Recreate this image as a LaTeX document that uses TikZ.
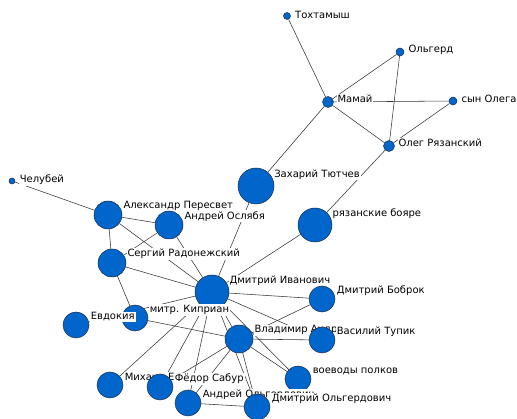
\documentclass[tikz,border=0pt]{standalone}
\usepackage{fontspec}
\setmainfont{DejaVu Sans}
\usepackage{tikz}
\usetikzlibrary{backgrounds,calc}
\definecolor{actorfill}{HTML}{0066CC}
\definecolor{actorline}{HTML}{1C2A4A}
\definecolor{tieline}{HTML}{353535}
\tikzset{
  actor/.style={
    circle, draw=actorline, line width=0.5pt, fill=actorfill, inner sep=0pt
  },
  tag/.style={
    fill=white, inner sep=1pt, anchor=west, font=\fontsize{10}{11}\selectfont
  },
  tie/.style={draw=tieline, line width=0.55pt},
}
% circle of radius #3 at #2, name tag at its upper right
\newcommand{\person}[4]{%
  \node[actor, minimum size=2*#3pt] (#1) at (#2) {};
  \node[tag] (#1-tag) at ($(#1)+({0.7*#3+4.5},{-0.7*#3+1})$) {#4};
}

\begin{document}
\begin{tikzpicture}[x=1pt, y=-1pt]
  \useasboundingbox (0,0) rectangle (517,419);
  \person{tokh}{287,16}{3.5}{Тохтамыш}
  \person{olgerd}{400,52}{4}{Ольгерд}
  \person{mamai}{328,102}{5.5}{Мамай}
  \person{synoleg}{453,101}{4}{сын Олега}
  \person{oleg}{389,146}{5.5}{Олег Рязанский}
  \person{tiutchev}{256,186}{18}{Захарий Тютчев}
  \person{boyare}{315,225}{17}{рязанские бояре}
  \person{chelubey}{12,181}{3}{Челубей}
  \person{peresvet}{108,215}{14}{Александр Пересвет}
  \person{oslyabya}{169,225}{14}{Андрей Ослябя}
  \person{sergiy}{112,263}{14}{Сергий Радонежский}
  \person{dmitry}{212,292}{17}{Дмитрий Иванович}
  \person{bobrok}{322,299}{13}{Дмитрий Боброк}
  \person{kiprian}{135,318}{13}{митр. Киприан}
  \person{evdokia}{76,325}{13}{Евдокия}
  \person{vladimir}{239,339}{14}{Владимир Андреевич}
  \person{tupik}{322,340}{13}{Василий Тупик}
  \person{voevody}{298,379}{13}{воеводы полков}
  \person{mikhail}{110,385}{13}{Михаил Е}
  \person{sabur}{160,387}{13}{Фёдор Сабур}
  \person{andreyolg}{188,403}{13}{Андрей Ольгердович}
  \person{dmolg}{257,407}{13}{Дмитрий Ольгердович}

  \begin{scope}[on background layer]
    % Orda and Ryazan side
    \draw[tie] (tokh) -- (mamai);
    \draw[tie] (olgerd) -- (mamai);
    \draw[tie] (olgerd) -- (oleg);
    \draw[tie] (mamai) -- (synoleg);
    \draw[tie] (mamai) -- (oleg);
    \draw[tie] (synoleg) -- (oleg);
    \draw[tie] (mamai) -- (tiutchev);
    \draw[tie] (oleg) -- (boyare);
    % Moscow side
    \draw[tie] (chelubey) -- (peresvet);
    \draw[tie] (peresvet) -- (oslyabya);
    \draw[tie] (peresvet) -- (sergiy);
    \draw[tie] (peresvet) -- (dmitry);
    \draw[tie] (oslyabya) -- (sergiy);
    \draw[tie] (oslyabya) -- (dmitry);
    \draw[tie] (sergiy) -- (dmitry);
    \draw[tie] (sergiy) -- (kiprian);
    \draw[tie] (tiutchev) -- (dmitry);
    \draw[tie] (boyare) -- (dmitry);
    \draw[tie] (evdokia) -- (dmitry);
    \draw[tie] (kiprian) -- (vladimir);
    \draw[tie] (dmitry) -- (bobrok);
    \draw[tie] (dmitry) -- (vladimir);
    \draw[tie] (dmitry) -- (tupik);
    \draw[tie] (dmitry) -- (mikhail);
    \draw[tie] (dmitry) -- (sabur);
    \draw[tie] (dmitry) -- (andreyolg);
    \draw[tie] (dmitry) -- (dmolg);
    \draw[tie] (dmitry) -- (voevody);
    \draw[tie] (bobrok) -- (vladimir);
    \draw[tie] (vladimir) -- (tupik);
    \draw[tie] (vladimir) -- (sabur);
    \draw[tie] (vladimir) -- (andreyolg);
    \draw[tie] (vladimir) -- (dmolg);
    \draw[tie] (vladimir) -- (voevody);
    \draw[tie] (andreyolg) -- (dmolg);
  \end{scope}
\end{tikzpicture}
\end{document}
